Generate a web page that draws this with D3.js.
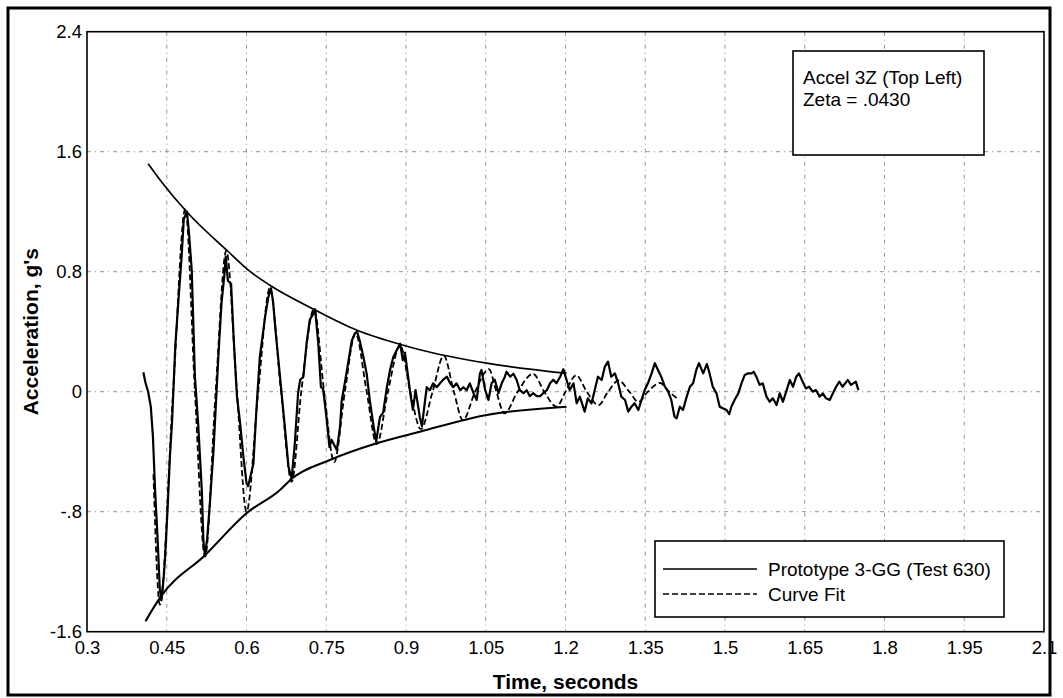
<!DOCTYPE html>
<html>
<head>
<meta charset="utf-8">
<script src="https://cdn.jsdelivr.net/npm/d3@7"></script>
<style>
  body { margin: 0; background: #fff; }
  svg { display: block; font-family: "Liberation Sans", Arial, sans-serif; }
</style>
</head>
<body>
<div id="chart"></div>
<script>
// Axis ticks
const xTicks = [0.3, 0.45, 0.6, 0.75, 0.9, 1.05, 1.2, 1.35, 1.5, 1.65, 1.8, 1.95, 2.1];
const xTickLabels = ['0.3', '0.45', '0.6', '0.75', '0.9', '1.05', '1.2', '1.35', '1.5', '1.65', '1.8', '1.95', '2.1'];
const yTicks = [-1.6, -0.8, 0, 0.8, 1.6, 2.4];
const yTickLabels = ['-1.6', '-.8', '0', '0.8', '1.6', '2.4'];

// Measured response, Prototype 3-GG (Test 630)
const testTime = [
  0.406, 0.410, 0.415, 0.420, 0.424, 0.428, 0.433, 0.437, 0.440, 0.444, 0.447, 0.452, 0.456, 0.460,
  0.466, 0.472, 0.478, 0.482, 0.488, 0.492, 0.497, 0.503, 0.509, 0.516, 0.519, 0.522, 0.526, 0.531,
  0.538, 0.547, 0.553, 0.559, 0.561, 0.565, 0.571, 0.576, 0.582, 0.588, 0.594, 0.600, 0.603, 0.607,
  0.613, 0.619, 0.625, 0.635, 0.641, 0.646, 0.650, 0.654, 0.660, 0.666, 0.672, 0.679, 0.685, 0.691,
  0.697, 0.701, 0.707, 0.713, 0.719, 0.726, 0.729, 0.735, 0.740, 0.744, 0.751, 0.756, 0.760, 0.770,
  0.776, 0.779, 0.785, 0.792, 0.798, 0.804, 0.808, 0.813, 0.820, 0.826, 0.832, 0.839, 0.844, 0.851,
  0.857, 0.864, 0.870, 0.876, 0.883, 0.889, 0.894, 0.898, 0.904, 0.908, 0.913, 0.918, 0.926, 0.930,
  0.936, 0.939, 0.945, 0.951, 0.958, 0.964, 0.970, 0.977, 0.983, 0.989, 0.995, 1.002, 1.008, 1.014,
  1.020, 1.027, 1.033, 1.039, 1.042, 1.049, 1.055, 1.061, 1.067, 1.074, 1.080, 1.086, 1.089, 1.096,
  1.102, 1.108, 1.114, 1.121, 1.127, 1.133, 1.139, 1.146, 1.152, 1.158, 1.165, 1.171, 1.177, 1.183,
  1.190, 1.196, 1.202, 1.208, 1.215, 1.221, 1.227, 1.233, 1.236, 1.242, 1.249, 1.255, 1.261, 1.268,
  1.274, 1.280, 1.286, 1.293, 1.299, 1.305, 1.312, 1.318, 1.324, 1.330, 1.337, 1.343, 1.349, 1.355,
  1.362, 1.368, 1.374, 1.380, 1.387, 1.393, 1.399, 1.405, 1.409, 1.415, 1.421, 1.428, 1.434, 1.440,
  1.446, 1.451, 1.459, 1.466, 1.471, 1.477, 1.484, 1.490, 1.496, 1.503, 1.508, 1.512, 1.518, 1.525,
  1.531, 1.537, 1.543, 1.550, 1.554, 1.559, 1.565, 1.571, 1.578, 1.584, 1.590, 1.597, 1.603, 1.609,
  1.616, 1.622, 1.628, 1.634, 1.639, 1.646, 1.652, 1.658, 1.665, 1.671, 1.678, 1.684, 1.690, 1.697,
  1.703, 1.709, 1.715, 1.721, 1.731, 1.737, 1.746, 1.751
];
const testAccel = [
  0.13, 0.06, 0.0, -0.1, -0.3, -0.65, -1.0, -1.32, -1.39, -1.25, -1.1, -0.75, -0.43, -0.2,
  0.3, 0.61, 0.9, 1.15, 1.2, 1.05, 0.81, 0.1, -0.21, -0.66, -1.0, -1.09, -0.98, -0.75,
  -0.39, 0.23, 0.59, 0.8, 0.9, 0.74, 0.72, 0.35, -0.03, -0.21, -0.43, -0.61, -0.63, -0.57,
  -0.48, -0.1, 0.23, 0.5, 0.63, 0.69, 0.6, 0.43, 0.21, -0.01, -0.23, -0.5, -0.58, -0.34,
  -0.01, 0.08, 0.1, 0.32, 0.48, 0.52, 0.55, 0.32, 0.03, 0.02, -0.19, -0.37, -0.32, -0.39,
  -0.23, -0.06, 0.06, 0.21, 0.34, 0.39, 0.4, 0.34, 0.23, 0.12, -0.06, -0.23, -0.33, -0.17,
  -0.14, 0.03, 0.145, 0.23, 0.28, 0.32, 0.21, 0.26, 0.1, -0.01, -0.12, 0.01, -0.17, -0.23,
  -0.055, 0.03, 0.01, 0.056, 0.03, 0.056, 0.08, 0.1, 0.056, 0.03, 0.056, 0.01, 0.03, 0.01,
  0.056, -0.01, -0.055, 0.12, 0.145, 0.01, -0.055, 0.056, 0.08, -0.01, 0.056, 0.1, 0.133, 0.1,
  0.12, 0.08, 0.01, -0.01, 0.01, -0.03, -0.01, -0.03, -0.03, -0.01, 0.01, 0.056, 0.08, 0.056,
  0.1, 0.15, 0.078, 0.011, 0.056, -0.077, -0.033, -0.1, -0.133, -0.044, -0.077, 0.011, 0.1, 0.078,
  0.167, 0.2, 0.1, 0.122, 0.056, -0.033, -0.055, -0.133, -0.1, -0.077, -0.122, -0.055, 0.011, 0.056,
  0.122, 0.19, 0.145, 0.1, 0.033, 0.0, -0.055, -0.167, -0.178, -0.1, -0.122, -0.033, 0.033, 0.056,
  0.145, 0.19, 0.122, 0.185, 0.122, 0.033, -0.011, -0.1, -0.111, -0.122, -0.149, -0.1, -0.055, -0.011,
  0.056, 0.111, 0.122, 0.122, 0.133, 0.1, 0.045, 0.056, -0.033, -0.067, -0.044, -0.089, -0.011, -0.067,
  0.011, 0.078, 0.033, 0.1, 0.122, 0.067, 0.022, 0.033, 0.0, 0.011, -0.033, -0.011, -0.044, -0.055,
  -0.011, 0.033, 0.067, 0.033, 0.078, 0.045, 0.067, 0.011
];

// Curve fit (damped response), read at peaks, troughs and crossings
const fitTime = [
  0.425, 0.437, 0.462, 0.485, 0.503, 0.522, 0.542, 0.562, 0.582, 0.600, 0.622, 0.644, 0.665, 0.685,
  0.703, 0.727, 0.746, 0.765, 0.785, 0.805, 0.826, 0.845, 0.866, 0.889, 0.908, 0.928, 0.950, 0.971,
  0.990, 1.007, 1.030, 1.056, 1.070, 1.085, 1.110, 1.139, 1.160, 1.183, 1.200, 1.220, 1.240, 1.262,
  1.280, 1.300, 1.320, 1.337, 1.355, 1.378, 1.395, 1.410
];
const fitAccel = [
  -0.55, -1.42, 0.0, 1.22, 0.0, -1.1, 0.0, 0.94, 0.0, -0.8, 0.0, 0.69, 0.0, -0.6,
  0.0, 0.55, 0.0, -0.47, 0.0, 0.39, 0.0, -0.35, 0.0, 0.31, 0.0, -0.25, 0.0, 0.24,
  0.0, -0.19, 0.0, 0.15, 0.0, -0.145, 0.0, 0.12, 0.0, -0.1, 0.0, 0.11, 0.0, -0.09,
  0.0, 0.075, 0.0, -0.068, 0.0, 0.058, 0.0, -0.045
];

// Decay envelopes
const upperTime = [0.415, 0.440, 0.4875, 0.566, 0.607, 0.644, 0.729, 0.808, 0.895, 0.926, 1.052, 1.202];
const upperEnv = [1.52, 1.40, 1.20, 0.933, 0.80, 0.71, 0.545, 0.41, 0.31, 0.28, 0.19, 0.122];
const lowerTime = [0.410, 0.440, 0.522, 0.600, 0.663, 0.685, 0.757, 0.845, 0.926, 1.052, 1.202];
const lowerEnv = [-1.53, -1.36, -1.09, -0.81, -0.655, -0.58, -0.455, -0.344, -0.267, -0.155, -0.10];

const width = 1063;
const height = 698;
const margin = { top: 31.7, right: 19, bottom: 66.3, left: 87 };
const innerWidth = width - margin.left - margin.right;
const innerHeight = height - margin.top - margin.bottom;
const fontFamily = '"Liberation Sans", Arial, sans-serif';

const svg = d3.select('#chart')
  .append('svg')
  .attr('width', width)
  .attr('height', height);

const g = svg.append('g')
  .attr('transform', `translate(${margin.left},${margin.top})`);

const x = d3.scaleLinear().domain([0.3, 2.1]).range([0, innerWidth]);
const y = d3.scaleLinear().domain([-1.6, 2.4]).range([innerHeight, 0]);

// Grid lines (light dash-dot)
g.append('g')
  .selectAll('line')
  .data(xTicks.slice(1, -1))
  .join('line')
  .attr('x1', d => x(d)).attr('x2', d => x(d))
  .attr('y1', 0).attr('y2', innerHeight)
  .attr('stroke', '#777')
  .attr('stroke-width', 0.8)
  .attr('stroke-dasharray', '4,4,1,4');

g.append('g')
  .selectAll('line')
  .data(yTicks.slice(1, -1))
  .join('line')
  .attr('x1', 0).attr('x2', innerWidth)
  .attr('y1', d => y(d)).attr('y2', d => y(d))
  .attr('stroke', '#777')
  .attr('stroke-width', 0.8)
  .attr('stroke-dasharray', '4,4,1,4');

// Axes
const xAxis = g.append('g')
  .attr('transform', `translate(0,${innerHeight})`)
  .call(d3.axisBottom(x).tickValues(xTicks).tickFormat((d, i) => xTickLabels[i]).tickSize(0).tickPadding(9));
const yAxis = g.append('g')
  .call(d3.axisLeft(y).tickValues(yTicks).tickFormat((d, i) => yTickLabels[i]).tickSize(0).tickPadding(5));

[xAxis, yAxis].forEach(ax => {
  ax.attr('font-family', fontFamily).attr('font-size', 18.5);
  ax.select('.domain').remove();
  ax.selectAll('text').attr('fill', '#000');
});

// Plot border
g.append('rect')
  .attr('width', innerWidth)
  .attr('height', innerHeight)
  .attr('fill', 'none')
  .attr('stroke', '#000')
  .attr('stroke-width', 1.6);

// Envelopes
const envLine = d3.line().x(d => x(d[0])).y(d => y(d[1])).curve(d3.curveMonotoneX);
g.append('path')
  .datum(upperTime.map((t, i) => [t, upperEnv[i]]))
  .attr('d', envLine)
  .attr('fill', 'none')
  .attr('stroke', '#000')
  .attr('stroke-width', 1.7);
g.append('path')
  .datum(lowerTime.map((t, i) => [t, lowerEnv[i]]))
  .attr('d', envLine)
  .attr('fill', 'none')
  .attr('stroke', '#000')
  .attr('stroke-width', 2.1);

// Curve fit (dashed)
g.append('path')
  .datum(fitTime.map((t, i) => [t, fitAccel[i]]))
  .attr('d', d3.line().x(d => x(d[0])).y(d => y(d[1])).curve(d3.curveMonotoneX))
  .attr('fill', 'none')
  .attr('stroke', '#000')
  .attr('stroke-width', 1.8)
  .attr('stroke-dasharray', '6,3');

// Measured response (solid)
g.append('path')
  .datum(testTime.map((t, i) => [t, testAccel[i]]))
  .attr('d', d3.line().x(d => x(d[0])).y(d => y(d[1])))
  .attr('fill', 'none')
  .attr('stroke', '#000')
  .attr('stroke-width', 2.2)
  .attr('stroke-linejoin', 'round');

// Annotation box
const note = svg.append('g').attr('transform', 'translate(793,51)');
note.append('rect')
  .attr('width', 191).attr('height', 104)
  .attr('fill', '#fff').attr('stroke', '#000').attr('stroke-width', 1.6);
note.selectAll('text')
  .data(['Accel 3Z (Top Left)', 'Zeta = .0430'])
  .join('text')
  .attr('x', 10)
  .attr('y', (d, i) => 33 + i * 22)
  .attr('font-size', '19px')
  .text(d => d);

// Legend
const legend = svg.append('g').attr('transform', 'translate(655,541)');
legend.append('rect')
  .attr('width', 349).attr('height', 76)
  .attr('fill', '#fff').attr('stroke', '#000').attr('stroke-width', 1.6);
const legendItems = [
  { label: 'Prototype 3-GG (Test 630)', dash: null },
  { label: 'Curve Fit', dash: '6,3' }
];
legendItems.forEach((item, i) => {
  const cy = 28 + i * 25;
  legend.append('line')
    .attr('x1', 8).attr('x2', 102)
    .attr('y1', cy).attr('y2', cy)
    .attr('stroke', '#000')
    .attr('stroke-width', 1.6)
    .attr('stroke-dasharray', item.dash);
  legend.append('text')
    .attr('x', 113).attr('y', cy + 7)
    .attr('font-size', '19px')
    .text(item.label);
});

// Axis titles
svg.append('text')
  .attr('x', margin.left + innerWidth / 2)
  .attr('y', 689)
  .attr('text-anchor', 'middle')
  .attr('font-size', '21px')
  .attr('font-weight', 'bold')
  .text('Time, seconds');

svg.append('text')
  .attr('transform', `translate(38,${margin.top + innerHeight / 2}) rotate(-90)`)
  .attr('text-anchor', 'middle')
  .attr('font-size', '21px')
  .attr('font-weight', 'bold')
  .text("Acceleration, g's");

// Outer frame
svg.append('rect')
  .attr('x', 8).attr('y', 8)
  .attr('width', 1042).attr('height', 687)
  .attr('fill', 'none')
  .attr('stroke', '#000')
  .attr('stroke-width', 3);
</script>
</body>
</html>
